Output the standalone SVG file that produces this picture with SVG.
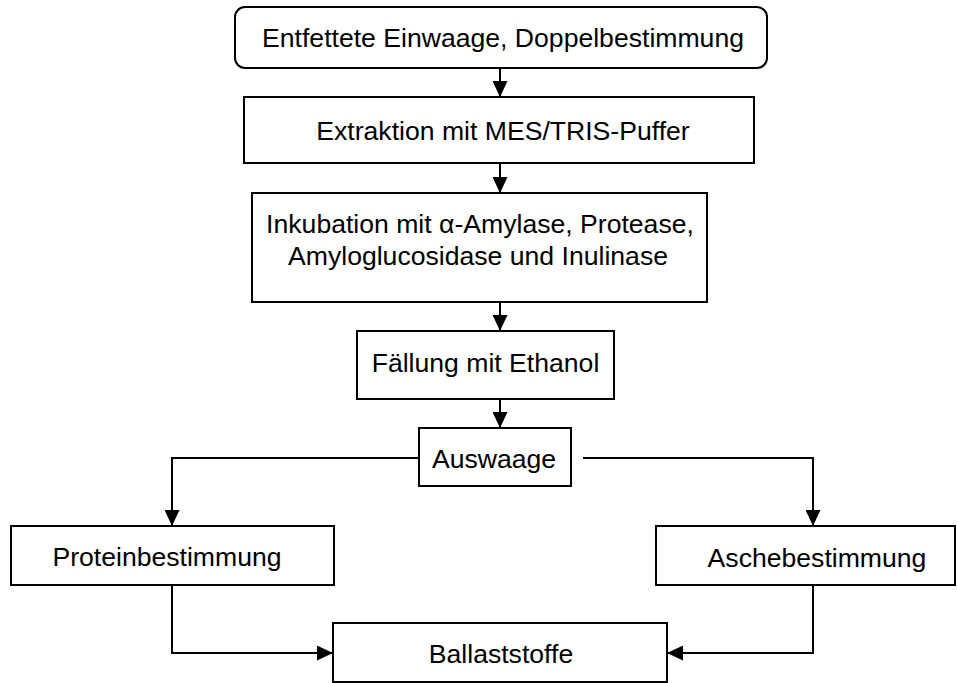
<svg xmlns="http://www.w3.org/2000/svg" width="957" height="683" viewBox="0 0 957 683">
<style>
.box{fill:#fff;stroke:#000;stroke-width:2}
.t{font-family:"Liberation Sans",Arial,sans-serif;font-size:26.6px;fill:#000;text-anchor:middle}
.c{fill:none;stroke:#000;stroke-width:2}
</style>
<defs>
<marker id="ah" viewBox="0 0 16 15" refX="16" refY="7.5" markerWidth="16" markerHeight="15" markerUnits="userSpaceOnUse" orient="auto">
<path d="M0,0 L16,7.5 L0,15 z" fill="#000"/>
</marker>
</defs>
<rect width="957" height="683" fill="#fff"/>
<g id="connectors">
<path class="c" d="M500,68 V97" marker-end="url(#ah)"/>
<path class="c" d="M500,163 V193" marker-end="url(#ah)"/>
<path class="c" d="M500,302 V331" marker-end="url(#ah)"/>
<path class="c" d="M500,399 V428" marker-end="url(#ah)"/>
<path class="c" d="M419,458 H172 V526" marker-end="url(#ah)"/>
<path class="c" d="M583,458 H813 V526" marker-end="url(#ah)"/>
<path class="c" d="M172,585 V653 H333" marker-end="url(#ah)"/>
<path class="c" d="M813,585 V653 H667" marker-end="url(#ah)"/>
</g>
<g id="n1"><rect class="box" x="235" y="7" width="532" height="61" rx="10"/><text class="t" x="503" y="47">Entfettete Einwaage, Doppelbestimmung</text></g>
<g id="n2"><rect class="box" x="244" y="97" width="510" height="66"/><text class="t" x="503" y="140">Extraktion mit MES/TRIS-Puffer</text></g>
<g id="n3"><rect class="box" x="252" y="193" width="455" height="109"/><text class="t" x="480" y="233">Inkubation mit α-Amylase, Protease,</text><text class="t" x="478" y="265">Amyloglucosidase und Inulinase</text></g>
<g id="n4"><rect class="box" x="357" y="331" width="257" height="68"/><text class="t" x="485.5" y="372">Fällung mit Ethanol</text></g>
<g id="n5"><rect class="box" x="419" y="428" width="152" height="58"/><text class="t" x="494" y="468">Auswaage</text></g>
<g id="n6"><rect class="box" x="11" y="526" width="323" height="59"/><text class="t" x="167" y="566">Proteinbestimmung</text></g>
<g id="n7"><rect class="box" x="656" y="526" width="299" height="59"/><text class="t" x="817" y="567">Aschebestimmung</text></g>
<g id="n8"><rect class="box" x="333" y="623" width="334" height="59"/><text class="t" x="501" y="663">Ballaststoffe</text></g>
</svg>
